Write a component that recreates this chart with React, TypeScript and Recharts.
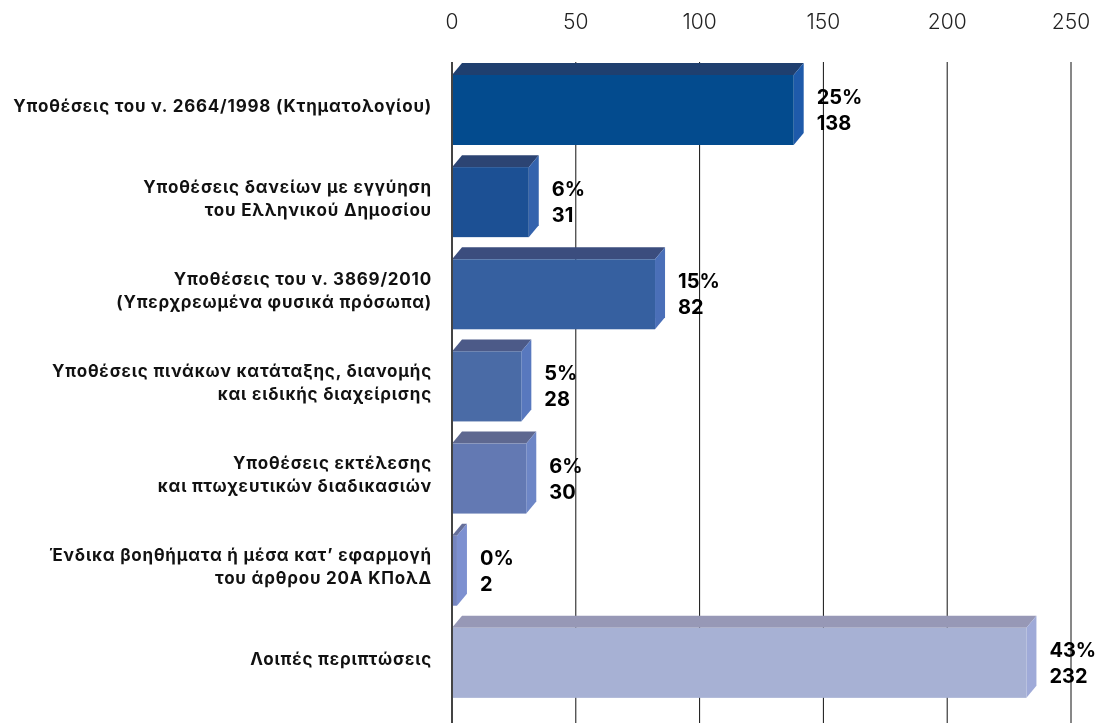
import { BarChart, Bar, XAxis, YAxis, CartesianGrid, LabelList } from 'recharts'

const categories = [
  'Υποθέσεις του ν. 2664/1998 (Κτηματολογίου)',
  'Υποθέσεις δανείων με εγγύηση\nτου Ελληνικού Δημοσίου',
  'Υποθέσεις του ν. 3869/2010\n(Υπερχρεωμένα φυσικά πρόσωπα)',
  'Υποθέσεις πινάκων κατάταξης, διανομής\nκαι ειδικής διαχείρισης',
  'Υποθέσεις εκτέλεσης\nκαι πτωχευτικών διαδικασιών',
  'Ένδικα βοηθήματα ή μέσα κατ’ εφαρμογή\nτου άρθρου 20Α ΚΠολΔ',
  'Λοιπές περιπτώσεις',
]
const cases = [138, 31, 82, 28, 30, 2, 232]
const shares = [25, 6, 15, 5, 6, 0, 43]
const xTicks = [0, 50, 100, 150, 200, 250]

// front / top / side colours of each 3D bar
const FRONT = ['#034b8e', '#1c5094', '#3660a0', '#4a6ba6', '#6379b3', '#7686c0', '#a7b1d4']
const TOP = ['#1f3f6f', '#2c4473', '#3b4d7e', '#4c5a88', '#5e6890', '#666f99', '#9798b6']
const SIDE = ['#1e5aaa', '#3463ad', '#4a6fb8', '#5878be', '#6d86c6', '#7d90d0', '#9faad8']

const DX = 10
const DY = 12
const FONT = 'Inter, "Open Sans", sans-serif'

const data = categories.map((c, i) => ({ category: c, cases: cases[i], share: shares[i] }))

function Bar3D(props: any) {
  const { x, y, width, height, index } = props
  const w = Math.max(width, 0)
  return (
    <g>
      <polygon
        points={`${x},${y} ${x + DX},${y - DY} ${x + w + DX},${y - DY} ${x + w},${y}`}
        fill={TOP[index]}
      />
      <polygon
        points={`${x + w},${y} ${x + w + DX},${y - DY} ${x + w + DX},${y + height - DY} ${x + w},${y + height}`}
        fill={SIDE[index]}
      />
      <rect x={x} y={y} width={w} height={height} fill={FRONT[index]} />
    </g>
  )
}

function CategoryTick(props: any) {
  const { x, y, payload } = props
  const lines = String(payload.value).split('\n')
  const lh = 23
  const start = y - 4 - ((lines.length - 1) * lh) / 2
  return (
    <text
      x={x}
      y={start}
      textAnchor="end"
      dominantBaseline="central"
      fontFamily={FONT}
      fontWeight={700}
      fontSize={17}
      letterSpacing={0.8}
      fill="#111"
    >
      {lines.map((l, i) => (
        <tspan key={i} x={x} y={start + i * lh}>
          {l}
        </tspan>
      ))}
    </text>
  )
}

function ValueLabel(props: any) {
  const { x, y, width, height, index } = props
  const lx = x + width + 23
  const cy = y + height / 2
  return (
    <text fontFamily={FONT} fontWeight={700} fontSize={20} fill="#000" dominantBaseline="central">
      <tspan x={lx} y={cy - 13}>{`${shares[index]}%`}</tspan>
      <tspan x={lx} y={cy + 13}>{cases[index]}</tspan>
    </text>
  )
}

export default function App() {
  return (
    <div style={{ position: 'fixed', top: 8, left: 8 }}>
      <BarChart
        width={1087}
        height={723}
        data={data}
        layout="vertical"
        margin={{ top: 0, right: 24, bottom: 0, left: 0 }}
      >
        <CartesianGrid horizontal={false} stroke="#111" strokeWidth={1} />
        <XAxis
          type="number"
          orientation="top"
          domain={[0, 250]}
          ticks={xTicks}
          height={54}
          axisLine={false}
          tickLine={false}
          tickSize={0}
          tickMargin={33}
          tick={{ fill: '#222', fontSize: 21, fontFamily: FONT, fontWeight: 300 }}
        />
        <YAxis
          type="category"
          dataKey="category"
          width={444}
          axisLine={{ stroke: '#444', strokeWidth: 2 }}
          tickLine={false}
          tickSize={0}
          tickMargin={20}
          padding={{ top: 2, bottom: 22 }}
          tick={<CategoryTick />}
          interval={0}
        />
        <Bar dataKey="cases" barSize={70} shape={<Bar3D />} isAnimationActive={false}>
          <LabelList dataKey="cases" content={<ValueLabel />} />
        </Bar>
      </BarChart>
    </div>
  )
}
